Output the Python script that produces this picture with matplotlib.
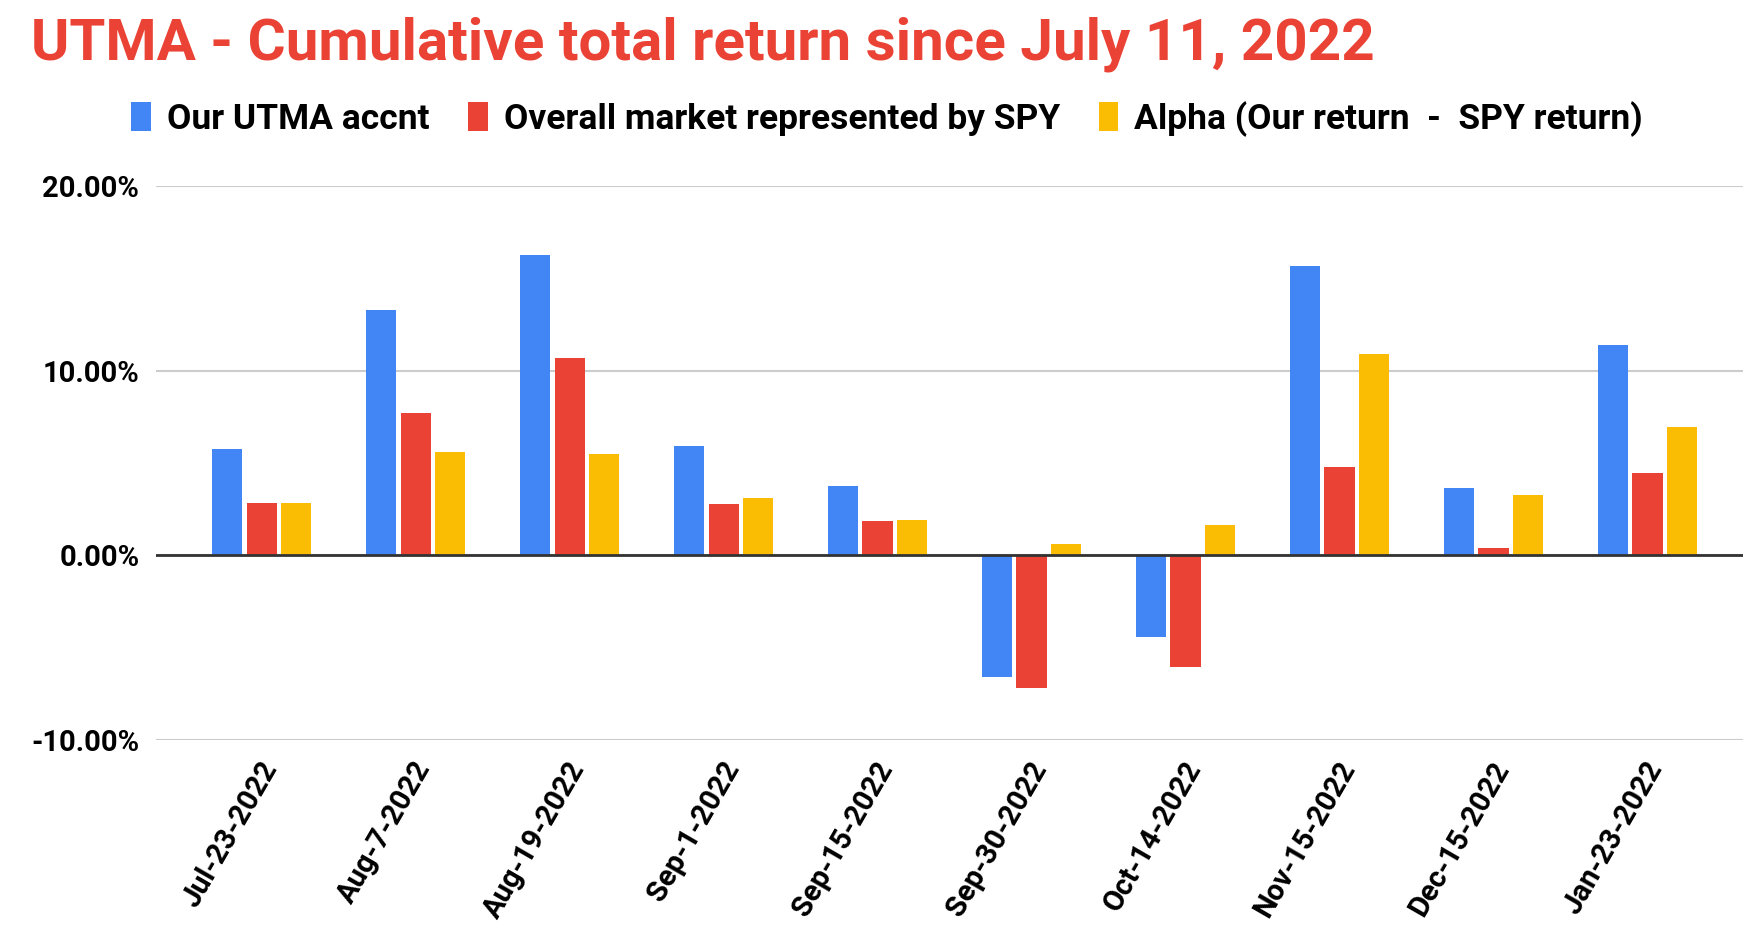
from matplotlib import pyplot as plt
from matplotlib.patches import Patch
import numpy as np

plt.rcParams['font.family'] = ['Roboto', 'DejaVu Sans']

dates = ["Jul-23-2022", "Aug-7-2022", "Aug-19-2022", "Sep-1-2022", "Sep-15-2022",
         "Sep-30-2022", "Oct-14-2022", "Nov-15-2022", "Dec-15-2022", "Jan-23-2022"]
utma = [5.78, 13.31, 16.27, 5.90, 3.73, -6.57, -4.40, 15.66, 3.67, 11.39]
spy = [2.83, 7.71, 10.66, 2.77, 1.87, -7.17, -6.02, 4.76, 0.42, 4.46]
alpha = [2.83, 5.60, 5.48, 3.13, 1.93, 0.60, 1.63, 10.90, 3.25, 6.93]

series_names = ["Our UTMA accnt", "Overall market represented by SPY",
                "Alpha (Our return  -  SPY return)"]
colors = ["#4285F4", "#EA4335", "#FBBC04"]


def main():
    fig = plt.figure(figsize=(17.43, 9.34), dpi=100)
    ax = fig.add_axes([0.0895, 0.2077, 0.9105, 0.5932])

    x = np.arange(len(dates))
    step = 0.224
    width = 0.196
    for i, (vals, c) in enumerate(zip([utma, spy, alpha], colors)):
        ax.bar(x + (i - 1) * step, vals, width, color=c, zorder=3)

    ax.set_ylim(-10, 20)
    ax.set_xlim(-0.686, 9.62)
    ax.set_yticks([-10, 0, 10, 20])
    ax.set_yticklabels(["%.2f%%" % v for v in [-10, 0, 10, 20]],
                       fontsize=21, fontweight='bold')
    ax.grid(axis='y', color='#cccccc', linewidth=1.5, zorder=0)
    ax.axhline(0, color='#333333', linewidth=2, zorder=4)
    for s in ax.spines.values():
        s.set_visible(False)
    ax.tick_params(axis='both', length=0)
    ax.tick_params(axis='y', pad=12)

    # shift label anchors a bit left so the rotated text sits under the group
    ax.set_xticks(x - 0.02)
    ax.set_xticklabels(dates, rotation=60, ha='right', rotation_mode='anchor',
                       fontsize=21, fontweight='bold')
    ax.tick_params(axis='x', pad=12)

    fig.text(0.018, 1 - 59 / 934, "UTMA - Cumulative total return since July 11, 2022",
             color='#EA4335', fontsize=42, fontweight='bold', va='baseline')

    handles = [Patch(facecolor=c, edgecolor='none') for c in colors]
    fig.legend(handles, series_names, loc='center', bbox_to_anchor=(0.509, 0.8726),
               ncol=3, frameon=False, prop={'weight': 'bold', 'size': 25.5},
               handlelength=0.55, handleheight=0.9, handletextpad=0.45, columnspacing=1.1)

    fig.savefig("out.png", dpi=100, facecolor='white')


if __name__ == "__main__":
    main()
